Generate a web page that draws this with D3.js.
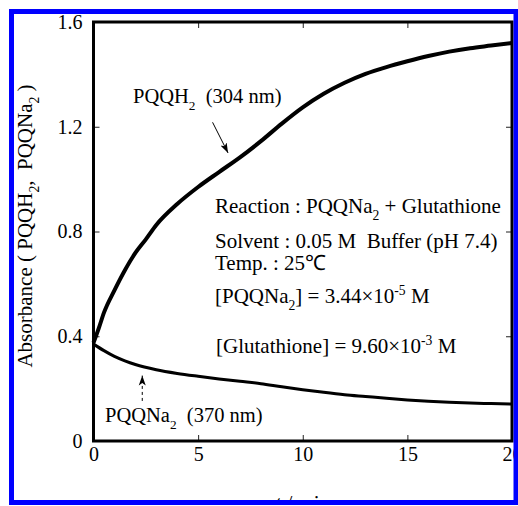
<!DOCTYPE html>
<html>
<head>
<meta charset="utf-8">
<script src="https://cdn.jsdelivr.net/npm/d3@7"></script>
<style>
	html, body {margin: 0; padding: 0; background: #fff;}
	svg {display: block; font-family: 'Liberation Serif', 'Times New Roman', serif;}
</style>
</head>
<body>
<div id="chart"></div>
<script>
// time in minutes
var timesH = [0, 0.25, 0.5, 1, 1.5, 2, 2.5, 3, 4, 5, 6, 7, 8, 9, 10, 11, 12, 13, 14, 15, 16, 17, 18, 19, 20];
// PQQH2 absorbance at 304 nm
var absH = [0.375, 0.43, 0.49, 0.575, 0.652, 0.718, 0.77, 0.825, 0.905, 0.97, 1.027, 1.083, 1.145, 1.212, 1.274, 1.326, 1.368, 1.402, 1.428, 1.45, 1.47, 1.487, 1.5, 1.51, 1.52];
var timesNa = [0, 0.5, 1, 1.5, 2, 3, 4, 5, 6, 7, 8, 9, 10, 11, 12, 13, 14, 15, 16, 17, 18, 19, 20];
// PQQNa2 absorbance at 370 nm
var absNa = [0.37, 0.345, 0.323, 0.306, 0.292, 0.272, 0.258, 0.247, 0.237, 0.228, 0.219, 0.207, 0.196, 0.186, 0.177, 0.17, 0.163, 0.157, 0.152, 0.148, 0.145, 0.143, 0.141];
var xTicks = [0, 5, 10, 15, 20];
var yTicks = [0, 0.4, 0.8, 1.2, 1.6];
var yTickLabels = ['0', '0.4', '0.8', '1.2', '1.6'];

(function() {
	'use strict';

	var W = 518, H = 506;
	var svg = d3.select('#chart').append('svg').attr('width', W).attr('height', H);
	svg.append('rect').attr('width', W).attr('height', H).attr('fill', '#fff');

	// the figure is cropped by the blue frame
	svg.append('clipPath').attr('id', 'crop')
		.append('rect').attr('x', 14).attr('y', 14).attr('width', 500).attr('height', 486);
	var g = svg.append('g').attr('clip-path', 'url(#crop)');

	var x = d3.scaleLinear().domain([0, 20]).range([93.5, 512]);
	var y = d3.scaleLinear().domain([0, 1.6]).range([441, 22]);

	function styleAxis(sel) {
		sel.select('.domain').remove();
		sel.selectAll('.tick line').attr('stroke', '#222').attr('stroke-width', 1);
		sel.selectAll('.tick text').attr('font-size', 20).attr('font-family', 'Liberation Serif').attr('fill', '#000');}

	g.append('g').attr('transform', 'translate(0,' + y(0) + ')')
		.call(d3.axisBottom(x).tickValues(xTicks).tickFormat(d3.format('d')).tickSize(-6).tickPadding(6))
		.call(styleAxis);
	g.append('g').attr('transform', 'translate(0,' + y(1.6) + ')')
		.call(d3.axisTop(x).tickValues(xTicks).tickFormat('').tickSize(-6))
		.call(styleAxis);
	g.append('g').attr('transform', 'translate(' + x(0) + ',0)')
		.call(d3.axisLeft(y).tickValues(yTicks).tickFormat(function(d, i) {return yTickLabels[i];}).tickSize(-6).tickPadding(11))
		.call(styleAxis);
	g.append('g').attr('transform', 'translate(' + x(20) + ',0)')
		.call(d3.axisRight(y).tickValues(yTicks).tickFormat('').tickSize(-6))
		.call(styleAxis);

	// frame
	g.append('rect')
		.attr('x', x(0)).attr('y', y(1.6))
		.attr('width', x(20) - x(0)).attr('height', y(0) - y(1.6))
		.attr('fill', 'none').attr('stroke', '#000').attr('stroke-width', 3);

	var line = d3.line()
		.x(function(d) {return x(d[0]);})
		.y(function(d) {return y(d[1]);})
		.curve(d3.curveMonotoneX);

	g.append('path').datum(d3.zip(timesH, absH))
		.attr('d', line).attr('fill', 'none').attr('stroke', '#000').attr('stroke-width', 4);
	g.append('path').datum(d3.zip(timesNa, absNa))
		.attr('d', line).attr('fill', 'none').attr('stroke', '#000').attr('stroke-width', 3);

	// arrow heads
	var defs = svg.append('defs');
	defs.append('marker').attr('id', 'head')
		.attr('viewBox', '0 0 10 10').attr('refX', 10).attr('refY', 5)
		.attr('markerWidth', 10).attr('markerHeight', 10).attr('markerUnits', 'userSpaceOnUse')
		.attr('orient', 'auto')
		.append('path').attr('d', 'M0,1.5L10,5L0,8.5L2.5,5Z').attr('fill', '#000');

	g.append('line')
		.attr('x1', x(5.69)).attr('y1', y(1.217))
		.attr('x2', x(6.43)).attr('y2', y(1.1))
		.attr('stroke', '#000').attr('stroke-width', 1).attr('marker-end', 'url(#head)');
	g.append('line')
		.attr('x1', x(2.33)).attr('y1', y(0.153))
		.attr('x2', x(2.33)).attr('y2', y(0.25))
		.attr('stroke', '#000').attr('stroke-width', 1).attr('stroke-dasharray', '3,3')
		.attr('marker-end', 'url(#head)');

	// text with sub/superscripts: parts = [[text, shift]]  shift: 0 normal, 1 sub, -1 sup
	function rich(parent, px, py, size, parts) {
		var t = parent.append('text').attr('x', px).attr('y', py)
			.attr('font-size', size).attr('fill', '#000');
		var cur = 0;
		parts.forEach(function(p) {
			var want = p[1] === 1 ? size * 0.33 : (p[1] === -1 ? -size * 0.38 : 0);
			var s = t.append('tspan').text(p[0]).attr('dy', want - cur);
			if (p[1]) {s.attr('font-size', size * 0.65);}
			cur = want;});
		return t;}

	rich(g, 133, 103, 20.5, [['PQQH', 0], ['2', 1], ['  (304 nm)', 0]]).attr('xml:space', 'preserve');
	rich(g, 105, 422, 20.5, [['PQQNa', 0], ['2', 1], ['  (370 nm)', 0]]).attr('xml:space', 'preserve');

	rich(g, 215, 213, 21, [['Reaction : PQQNa', 0], ['2', 1], [' + Glutathione', 0]]);
	rich(g, 215, 248, 21, [['Solvent : 0.05 M  Buffer (pH 7.4)', 0]]).attr('xml:space', 'preserve');
	rich(g, 215, 270, 21, [['Temp. : 25\u2103', 0]]);
	rich(g, 215, 303, 21, [['[PQQNa', 0], ['2', 1], ['] = 3.44\u00d710', 0], ['-5', -1], [' M', 0]]);
	rich(g, 216, 353, 21, [['[Glutathione] = 9.60\u00d710', 0], ['-3', -1], [' M', 0]]);

	// axis titles
	rich(g, 0, 0, 21, [['Absorbance ( PQQH', 0], ['2', 1], [',  PQQNa', 0], ['2', 1], [' )', 0]])
		.attr('text-anchor', 'middle').attr('xml:space', 'preserve')
		.attr('transform', 'translate(32,226) rotate(-90)');
	var xl = g.append('text').attr('x', (x(0) + x(20)) / 2).attr('y', 510)
		.attr('text-anchor', 'middle').attr('font-size', 21);
	xl.append('tspan').attr('font-style', 'italic').text('t');
	xl.append('tspan').text(' / min');

	// blue border
	svg.append('rect').attr('x', 11.5).attr('y', 11.5).attr('width', 504.5).attr('height', 491)
		.attr('fill', 'none').attr('stroke', '#0000ff').attr('stroke-width', 5);
})();
</script>
</body>
</html>
